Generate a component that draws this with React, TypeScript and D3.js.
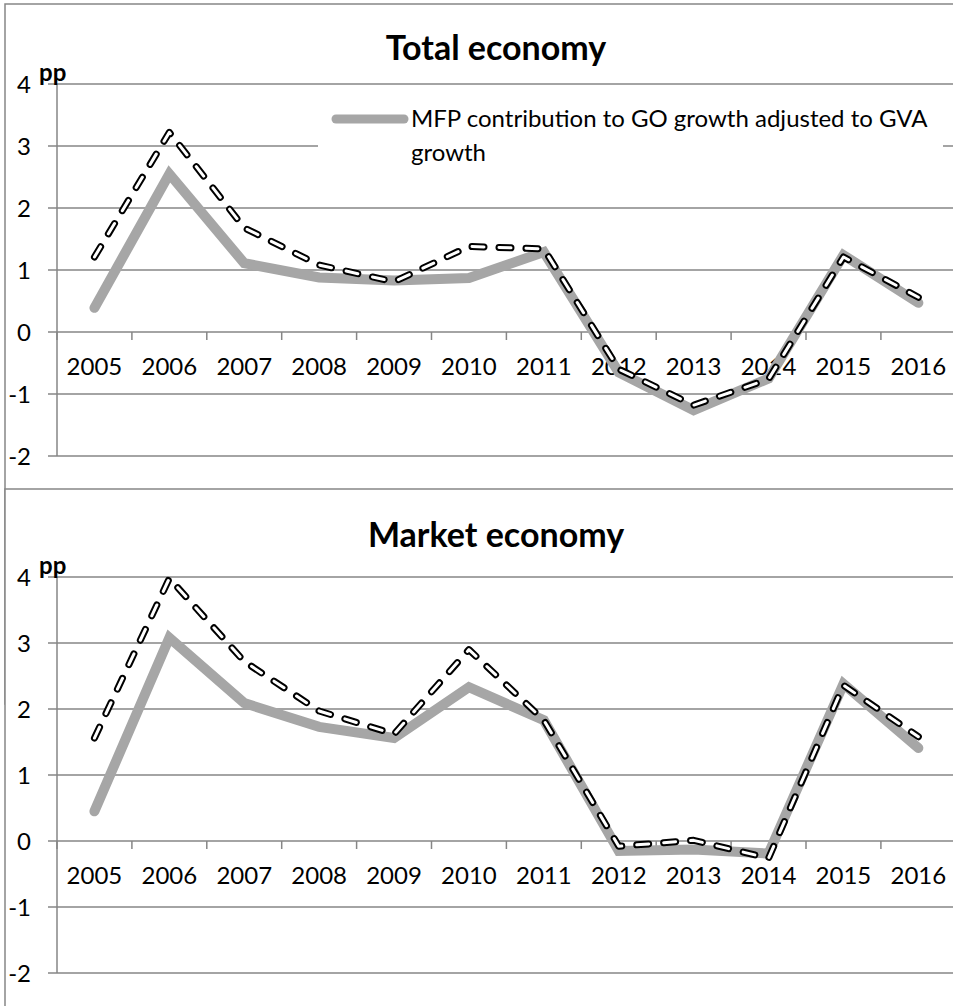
import React from "react";
import * as d3 from "d3";

const years = ["2005","2006","2007","2008","2009","2010","2011","2012","2013","2014","2015","2016"];
const yTicks = [-2, -1, 0, 1, 2, 3, 4];

const totalMfp = [0.39, 2.55, 1.11, 0.88, 0.83, 0.87, 1.29, -0.65, -1.26, -0.75, 1.24, 0.47];
const totalDashed = [1.21, 3.22, 1.68, 1.08, 0.81, 1.38, 1.34, -0.6, -1.18, -0.76, 1.21, 0.56];
const marketMfp = [0.45, 3.08, 2.09, 1.73, 1.56, 2.33, 1.83, -0.15, -0.13, -0.19, 2.38, 1.41];
const marketDashed = [1.56, 3.98, 2.72, 1.97, 1.62, 2.9, 1.83, -0.08, 0.01, -0.26, 2.36, 1.58];

const legendLabel = ["MFP contribution to GO growth adjusted to GVA", "growth"];

const FONT = "Lato, 'Open Sans', sans-serif";
const GRID = "#868686";
const GREY = "#a6a6a6";

type PanelProps = {
  title: string;
  top: number;
  titleY: number;
  y0: number;
  y1: number;
  mfp: number[];
  dashed: number[];
  legend?: boolean;
};

const x = d3.scaleBand<string>().domain(years).range([57, 57 + 12 * 74.9]);

function Panel({ title, top, titleY, y0, y1, mfp, dashed, legend }: PanelProps) {
  const y = d3.scaleLinear().domain([-2, 4]).range([y0, y1]);
  const line = d3
    .line<number>()
    .x((_, i) => (x(years[i]) as number) + x.bandwidth() / 2)
    .y((d) => y(d));
  const zero = y(0);
  const boundaries = d3.range(0, 13).map((i) => 57 + i * x.bandwidth());
  return (
    <g>
      <rect x={5} y={top} width={980} height={700} fill="white" stroke={GRID} strokeWidth={1.5} />
      <text x={496} y={titleY} textAnchor="middle" fontFamily={FONT} fontWeight="bold" fontSize={34} fill="#000">
        {title}
      </text>
      {yTicks.map((t) => (
        <g key={t}>
          <line x1={48} x2={960} y1={y(t)} y2={y(t)} stroke={GRID} strokeWidth={1.5} />
          <text x={31} y={y(t) + 9} textAnchor="end" fontFamily={FONT} fontSize={24} fill="#000">
            {t}
          </text>
        </g>
      ))}
      <line x1={57} x2={57} y1={y(4)} y2={y(-2)} stroke={GRID} strokeWidth={1.5} />
      {boundaries.map((b, i) => (
        <line key={i} x1={b} x2={b} y1={zero} y2={zero + 8} stroke={GRID} strokeWidth={1.5} />
      ))}
      {years.map((yr) => (
        <text key={yr} x={(x(yr) as number) + x.bandwidth() / 2} y={zero + 43} textAnchor="middle" fontFamily={FONT} fontSize={24} fill="#000">
          {yr}
        </text>
      ))}
      <text x={39} y={y(4) - 3} fontFamily={FONT} fontWeight="bold" fontSize={24} fill="#000">pp</text>
      {legend && (
        <g>
          <rect x={318} y={96} width={625} height={86} fill="white" />
          <line x1={336} x2={404} y1={119} y2={119} stroke={GREY} strokeWidth={9} strokeLinecap="round" />
          <text x={411} y={127} fontFamily={FONT} fontSize={24} fill="#000">{legendLabel[0]}</text>
          <text x={411} y={161} fontFamily={FONT} fontSize={24} fill="#000">{legendLabel[1]}</text>
        </g>
      )}
      <path d={line(mfp) as string} fill="none" stroke={GREY} strokeWidth={10} strokeLinecap="round" strokeLinejoin="miter" />
      <path d={line(dashed) as string} fill="none" stroke="#000" strokeWidth={7} strokeDasharray="12 15" strokeLinecap="round" strokeLinejoin="round" />
      <path d={line(dashed) as string} fill="none" stroke="#fff" strokeWidth={3} strokeDasharray="12 15" strokeLinecap="round" strokeLinejoin="round" />
    </g>
  );
}

export default function App() {
  return (
    <svg width={953} height={1006} style={{ position: "absolute", left: 0, top: 0, background: "white" }}>
      <Panel title="Total economy" top={4} titleY={60} y0={456} y1={84} mfp={totalMfp} dashed={totalDashed} legend />
      <Panel title="Market economy" top={489} titleY={547} y0={973} y1={577} mfp={marketMfp} dashed={marketDashed} />
    </svg>
  );
}
